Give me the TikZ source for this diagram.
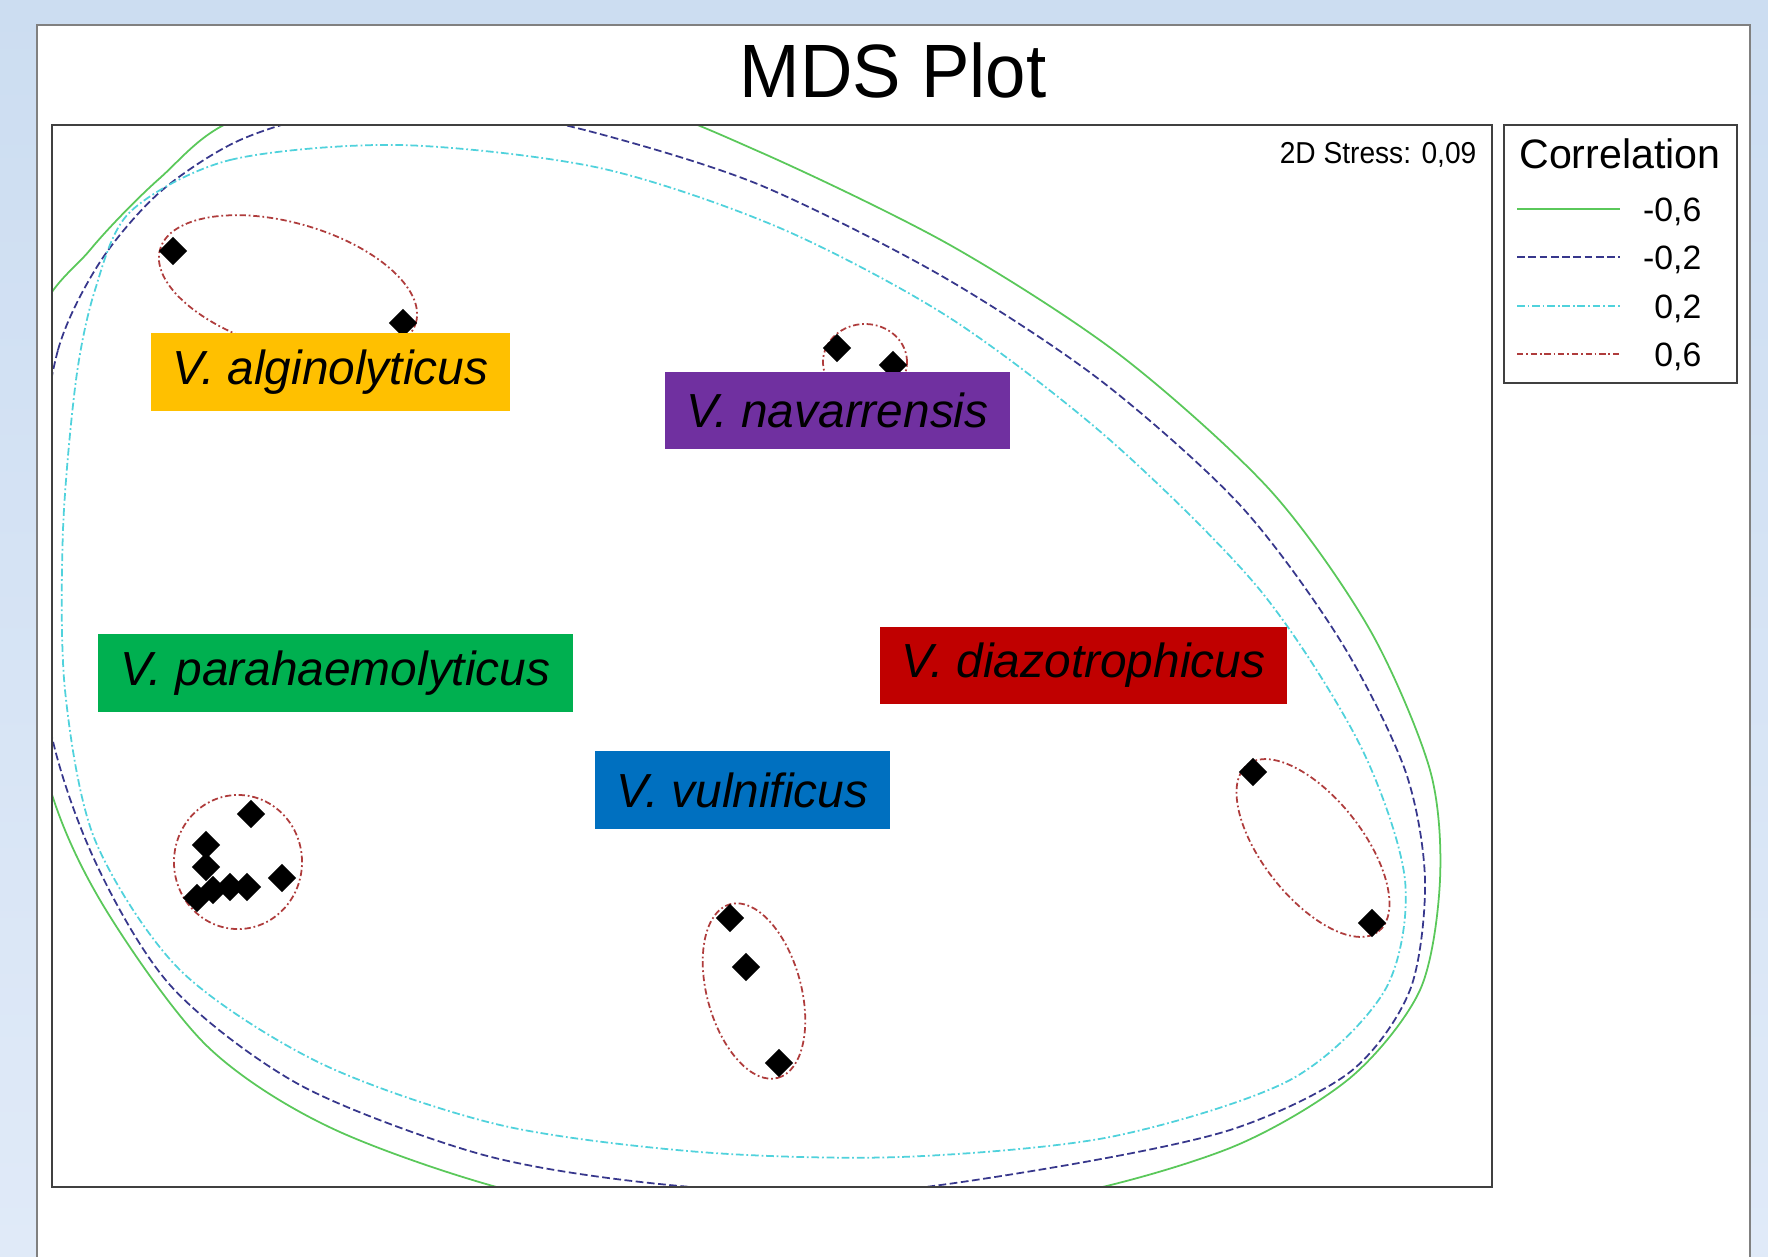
\documentclass[tikz,border=0pt]{standalone}
\usepackage{fontspec}
\setmainfont{Liberation Sans}
\usepackage{tikz}
\usetikzlibrary{shapes.geometric}
\definecolor{fondbleu}{RGB}{204,221,241}
\definecolor{fondclair}{RGB}{224,234,248}
\definecolor{vertcor}{RGB}{90,200,90}
\definecolor{bleucor}{RGB}{55,55,140}
\definecolor{cyancor}{RGB}{80,210,220}
\definecolor{rougecor}{RGB}{175,60,60}
\definecolor{orangev}{RGB}{255,192,0}
\definecolor{violetv}{RGB}{112,48,160}
\definecolor{vertv}{RGB}{0,176,80}
\definecolor{rougev}{RGB}{192,0,0}
\definecolor{bleuv}{RGB}{0,112,192}
\tikzstyle{cadre}=[draw=black!75, line width=0.6pt]
\tikzstyle{isoA}=[vertcor, line width=0.5pt]
\tikzstyle{isoB}=[bleucor, line width=0.5pt, dash pattern=on 2.2pt off 1pt]
\tikzstyle{isoC}=[cyancor, line width=0.5pt, dash pattern=on 2.2pt off 0.8pt on 0.5pt off 0.8pt]
\tikzstyle{isoD}=[rougecor, line width=0.5pt, dash pattern=on 1.8pt off 0.8pt on 0.5pt off 0.8pt]
\tikzstyle{losange}=[diamond, fill=black, inner sep=0, minimum size=0.29cm]
\tikzstyle{espece}=[inner sep=0, minimum height=0.77cm, font=\fontsize{13.6}{16}\selectfont\itshape]
\begin{document}
\begin{tikzpicture}[x=0.01cm,y=-0.01cm]
\useasboundingbox (0,0) rectangle (1768,1256);
\shade[top color=fondbleu, bottom color=fondclair] (0,0) rectangle (1768,1256);
\draw[fill=white, draw=black!50, line width=0.6pt] (37,25) rectangle (1750,1270);
\node[inner sep=0] (titre) at (893,70) {\fontsize{21.5}{24}\selectfont\scalebox{0.96}[1]{MDS Plot}};
\draw[cadre, fill=white] (52,125) rectangle (1492,1187);

% isolignes
\begin{scope}
\clip (52,125) rectangle (1492,1187);
\draw[isoA] plot[smooth cycle] coordinates {(15,560) (35,330) (90,250) (160,178) (240,118) (430,85) (620,100) (760,152) (950,245) (1120,355) (1270,490) (1370,630) (1430,770) (1440,880) (1420,990) (1350,1078) (1230,1148) (1050,1198) (800,1222) (550,1200) (340,1132) (207,1046) (100,900) (45,770)};
\draw[isoB] plot[smooth cycle] coordinates {(40,480) (58,350) (100,262) (160,192) (240,140) (340,112) (480,110) (600,134) (760,185) (940,275) (1100,380) (1240,505) (1340,640) (1405,770) (1425,880) (1410,990) (1350,1072) (1230,1130) (1050,1168) (850,1194) (650,1183) (480,1154) (300,1085) (170,985) (90,850) (45,700)};
\draw[isoC] plot[smooth cycle] coordinates {(130,212) (230,160) (400,145) (600,168) (780,228) (950,318) (1110,440) (1260,590) (1360,745) (1405,880) (1385,990) (1290,1080) (1110,1137) (900,1157) (700,1152) (500,1125) (320,1063) (180,970) (95,840) (65,690) (63,530) (76,380) (95,290)};
\end{scope}

%ellipses 0,6
\draw[isoD, rotate around={-16:(288,286)}] (288,286) ellipse [x radius=1.33cm, y radius=0.63cm];
\draw[isoD] (865,362) ellipse [x radius=0.42cm, y radius=0.38cm];
\draw[isoD] (238,862) ellipse [x radius=0.64cm, y radius=0.67cm];
\draw[isoD, rotate around={-74.6:(754,991)}] (754,991) ellipse [x radius=0.90cm, y radius=0.47cm];
\draw[isoD, rotate around={-51.8:(1313,848)}] (1313,848) ellipse [x radius=1.06cm, y radius=0.50cm];

%points
\foreach \cx/\cy [count=\i] in {173/251, 403/323, 837/348, 893/365, 251/814, 206/845, 206/867, 197/898, 213/890, 230/887, 247/887, 282/878, 730/918, 746/967, 779/1063, 1253/772, 1372/923}
  \node[losange] (p\i) at (\cx,\cy) {};

%especes
\foreach \nom/\txt/\coul/\cx/\cy/\lar in {alg/V. alginolyticus/orangev/330.5/372/3.59, nav/V. navarrensis/violetv/837.5/410.5/3.45, para/V. parahaemolyticus/vertv/335.5/673/4.75, dia/V. diazotrophicus/rougev/1083.5/665.5/4.07, vul/V. vulnificus/bleuv/742.5/790/2.95}
  \node[espece, fill=\coul, minimum width=\lar cm] (\nom) at (\cx,\cy) {\txt};

\draw[cadre] (52,125) rectangle (1492,1187);
\node[anchor=base east, inner sep=0] (stress) at (1477,163) {\fontsize{8.6}{10}\selectfont\scalebox{0.93}[1]{2D Stress: 0,09}};

%legende
\draw[cadre, fill=white] (1504,125) rectangle (1737,383);
\node[anchor=base, inner sep=0] (correl) at (1620,168) {\fontsize{11.7}{13}\selectfont Correlation};
\foreach \st/\val/\yy in {isoA/{-0,6}/209, isoB/{-0,2}/257, isoC/{0,2}/306, isoD/{0,6}/354}
{\draw[\st] (1517,\yy) -- (1620,\yy);
 \node[anchor=base east, inner sep=0] (leg\st) at (1702,\yy+12) {\fontsize{9.6}{11}\selectfont \val};
}
\end{tikzpicture}
\end{document}
